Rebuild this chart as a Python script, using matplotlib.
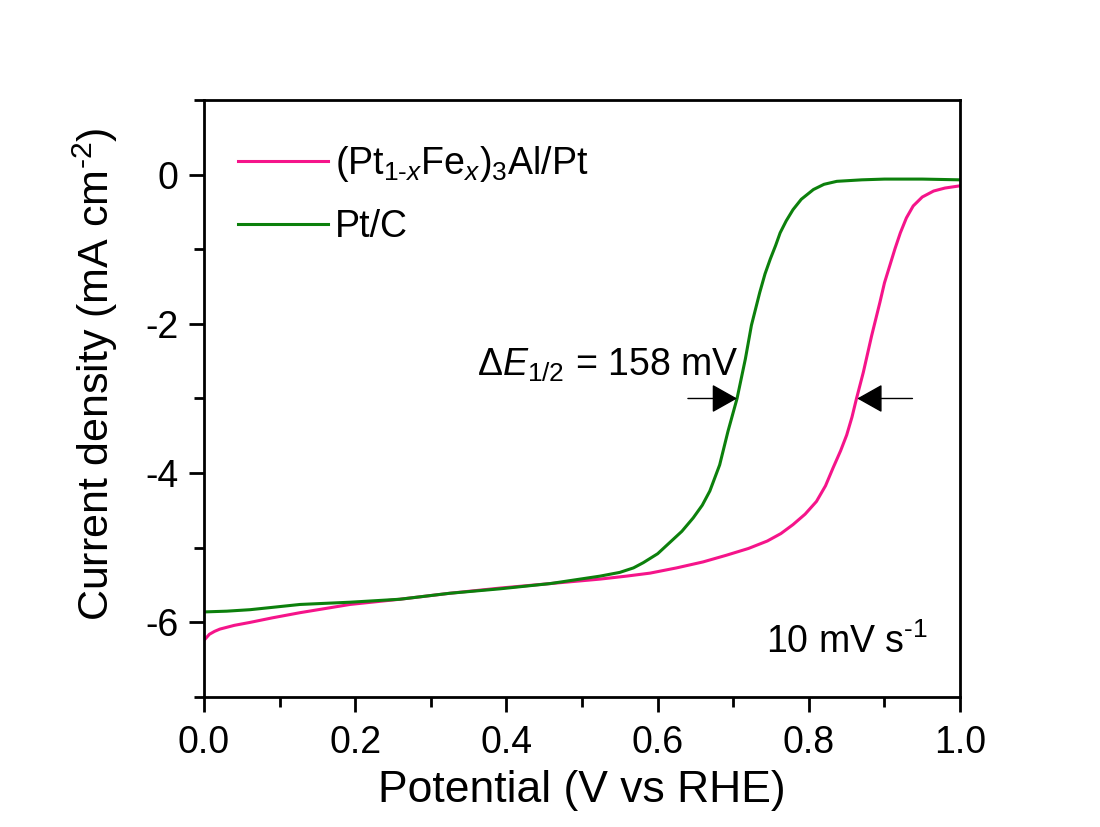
import numpy as np
import matplotlib
matplotlib.use('Agg')
import matplotlib.pyplot as plt

plt.rcParams['font.family'] = ['Liberation Sans', 'DejaVu Sans']
plt.rcParams['mathtext.fontset'] = 'custom'
plt.rcParams['mathtext.rm'] = 'Liberation Sans'
plt.rcParams['mathtext.it'] = 'Liberation Sans:italic'
plt.rcParams['mathtext.default'] = 'regular'

# (Pt1-xFex)3Al/Pt curve
pt_fe_x = [0.0, 0.007, 0.014, 0.021, 0.04, 0.061, 0.09, 0.127, 0.193, 0.259,
           0.325, 0.392, 0.458, 0.524, 0.559, 0.59, 0.625, 0.66, 0.691, 0.72,
           0.745, 0.763, 0.779, 0.795, 0.81, 0.822, 0.832, 0.842, 0.85, 0.857,
           0.863, 0.872, 0.883, 0.894, 0.9, 0.907, 0.914, 0.921, 0.929, 0.938,
           0.95, 0.965, 0.98, 1.0]
pt_fe_y = [-6.24, -6.16, -6.12, -6.09, -6.04, -6.0, -5.94, -5.87, -5.76, -5.69,
           -5.61, -5.54, -5.48, -5.42, -5.38, -5.34, -5.27, -5.19, -5.1, -5.01,
           -4.91, -4.81, -4.69, -4.55, -4.38, -4.17, -3.93, -3.7, -3.49, -3.25,
           -3.0, -2.65, -2.16, -1.71, -1.45, -1.22, -0.99, -0.78, -0.58, -0.42,
           -0.3, -0.22, -0.18, -0.15]

# Pt/C curve
ptc_x = [0.0, 0.03, 0.061, 0.127, 0.193, 0.259, 0.325, 0.392, 0.458, 0.524,
         0.55, 0.568, 0.581, 0.6, 0.616, 0.632, 0.647, 0.659, 0.669, 0.682,
         0.693, 0.705, 0.716, 0.724, 0.735, 0.742, 0.749, 0.756, 0.762, 0.77,
         0.779, 0.79, 0.806, 0.82, 0.837, 0.87, 0.9, 0.95, 1.0]
ptc_y = [-5.86, -5.85, -5.83, -5.76, -5.73, -5.69, -5.61, -5.55, -5.48, -5.38,
         -5.33, -5.27, -5.2, -5.08, -4.93, -4.78, -4.6, -4.43, -4.24, -3.89,
         -3.44, -3.0, -2.47, -2.02, -1.58, -1.33, -1.13, -0.95, -0.78, -0.62,
         -0.47, -0.33, -0.2, -0.13, -0.09, -0.07, -0.06, -0.06, -0.07]

pink = '#f5148a'
green = '#0c800c'

fig = plt.figure(figsize=(11, 8.27), dpi=100)
ax = fig.add_axes([0.1855, 0.1572, 0.6873, 0.7219])

ax.plot(pt_fe_x, pt_fe_y, color=pink, lw=2.2,
        label=r'(Pt$_{1\text{-}\mathit{x}}$Fe$_{\mathit{x}}$)$_3$Al/Pt')
ax.plot(ptc_x, ptc_y, color=green, lw=2.2, label='Pt/C')

ax.set_xlim(0, 1.0)
ax.set_ylim(-7, 1)
ax.set_xticks([0.0, 0.2, 0.4, 0.6, 0.8, 1.0])
ax.set_xticks(np.arange(0.1, 1.0, 0.2), minor=True)
ax.set_yticks([-6, -4, -2, 0])
ax.set_yticks([-7, -5, -3, -1, 1], minor=True)
ax.set_xticklabels(['0.0', '0.2', '0.4', '0.6', '0.8', '1.0'])
ax.set_yticklabels(['-6', '-4', '-2', '0'])

for s in ax.spines.values():
    s.set_linewidth(2.0)
ax.tick_params(which='major', direction='out', length=10.5, width=2.0,
               labelsize=27)
ax.tick_params(axis='x', which='major', pad=10)
ax.tick_params(axis='y', which='major', pad=8)
ax.tick_params(which='minor', direction='out', length=7, width=2.0)

ax.set_xlabel('Potential (V vs RHE)', fontsize=32, labelpad=6)
ax.set_ylabel(r'Current density (mA cm$^{\text{-}2}$)', fontsize=31)
ax.yaxis.set_label_coords(-0.111, 0.54)

leg = ax.legend(loc='upper left', fontsize=27, frameon=False,
                handlelength=2.4, handletextpad=0.2, labelspacing=0.66,
                bbox_to_anchor=(0.01, 0.97), borderaxespad=0.3)

ax.text(0.361, -2.55, r'$\Delta$$\mathit{E}_{1/2}$ = 158 mV', fontsize=27,
        ha='left', va='center')
ax.annotate('', xy=(0.705, -3.0), xytext=(0.64, -3.0),
            arrowprops=dict(arrowstyle='-|>,head_length=0.8,head_width=0.45',
                            color='black', lw=1.0, mutation_scale=20,
                            shrinkA=0, shrinkB=0))
ax.annotate('', xy=(0.864, -3.0), xytext=(0.937, -3.0),
            arrowprops=dict(arrowstyle='-|>,head_length=0.8,head_width=0.45',
                            color='black', lw=1.0, mutation_scale=20,
                            shrinkA=0, shrinkB=0))

ax.text(0.743, -6.27, r'10 mV s$^{\text{-}1}$', fontsize=27, ha='left', va='center')

fig.savefig('out.png', dpi=100)
